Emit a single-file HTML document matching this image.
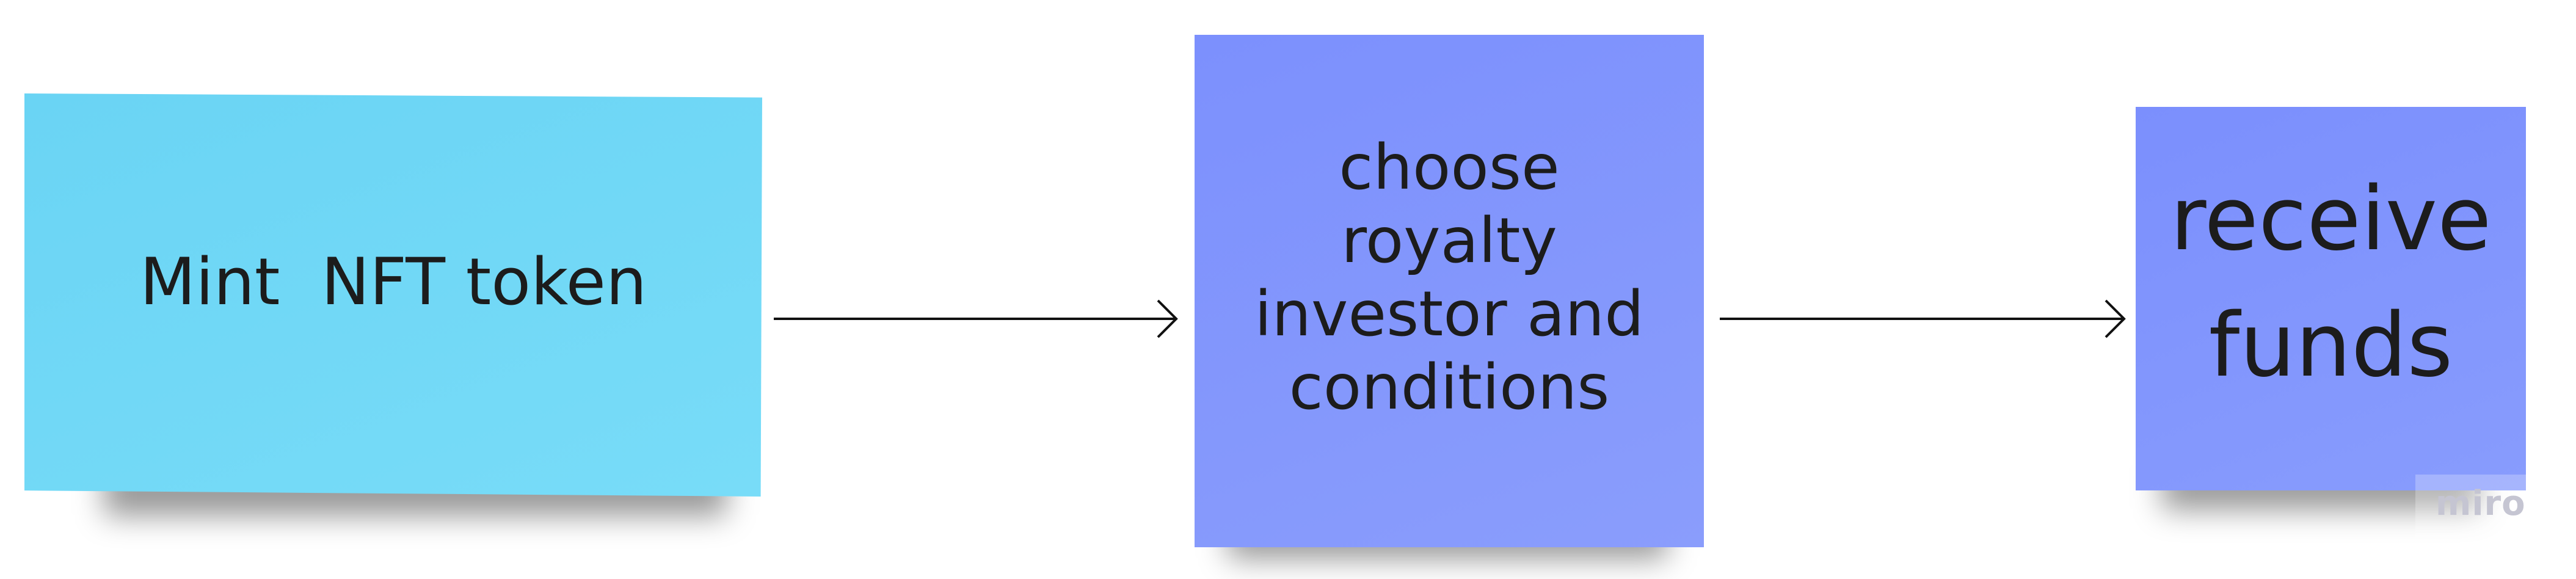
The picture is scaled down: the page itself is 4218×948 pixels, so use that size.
<!DOCTYPE html>
<html><head><meta charset="utf-8"><style>
html,body{margin:0;padding:0;background:#fff;}
body{width:4218px;height:948px;position:relative;overflow:hidden;font-family:"DejaVu Sans","Liberation Sans",sans-serif;}
.n{position:absolute;display:flex;align-items:center;justify-content:center;text-align:center;color:#1c1c1c;}
.n span{position:relative;}
.sh{position:absolute;filter:blur(24px);background:rgba(0,0,0,0.4);border-radius:10px;}
</style></head><body>
<div class="sh" style="left:170px;top:760px;width:1020px;height:85px;"></div>
<div class="sh" style="left:2010px;top:840px;width:720px;height:75px;"></div>
<div class="sh" style="left:3540px;top:760px;width:520px;height:75px;"></div>

<div class="n" style="left:40px;top:153px;width:1208px;height:660px;background:linear-gradient(160deg,#6ad4f4,#78dcf8);font-size:106px;clip-path:polygon(0 0,100% 1%,99.8% 100%,0 98.5%);"><span style="top:-22px">Mint&nbsp; NFT token</span></div>

<div class="n" style="left:1956px;top:57px;width:834px;height:839px;background:linear-gradient(160deg,#7c90fd,#8a9dfc);font-size:102px;line-height:120px;"><span style="top:-22px">choose<br>royalty<br>investor and<br>conditions</span></div>

<div class="n" style="left:3497px;top:175px;width:639px;height:628px;background:linear-gradient(160deg,#7b8ffd,#889cfd);font-size:144px;line-height:207px;"><span style="top:-27px">receive<br>funds</span></div>

<svg style="position:absolute;left:0;top:0" width="4218" height="948">
<g stroke="#111" stroke-width="4" fill="none">
<line x1="1267" y1="522" x2="1926" y2="522"/>
<polyline points="1896,492 1926,522 1896,552"/>
<line x1="2816" y1="522" x2="3478" y2="522"/>
<polyline points="3448,492 3478,522 3448,552"/>
</g>
</svg>

<div style="position:absolute;left:3955px;top:777px;width:181px;height:105px;background:rgba(255,255,255,0.25);"></div>
<div style="position:absolute;left:3988px;top:792px;font-size:56px;font-weight:bold;color:#c5c5d2;letter-spacing:1px;">miro</div>
</body></html>
